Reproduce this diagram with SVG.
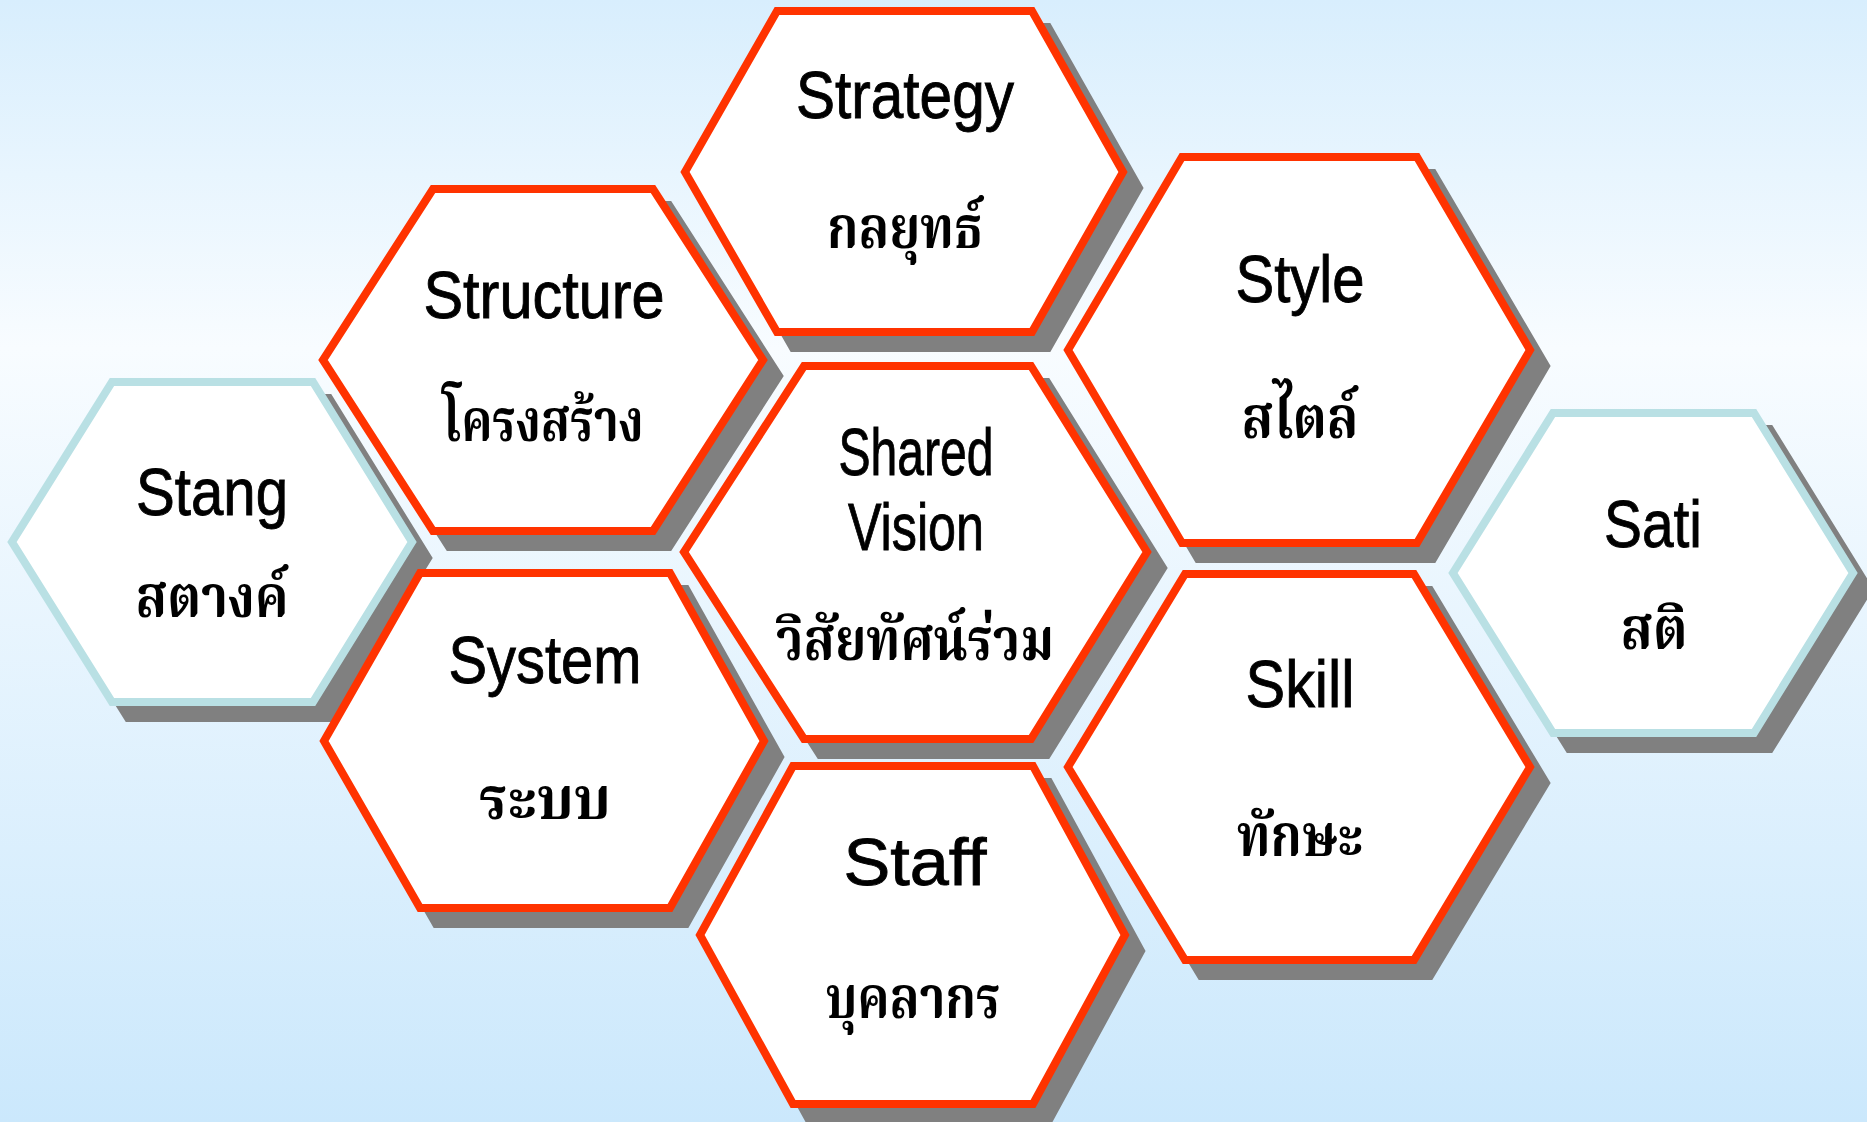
<svg xmlns="http://www.w3.org/2000/svg" width="1867" height="1122" viewBox="0 0 1867 1122">
<defs>
<linearGradient id="bg" x1="0" y1="0" x2="0" y2="1">
<stop offset="0" stop-color="#d8eefd"/>
<stop offset="0.31" stop-color="#f8fcff"/>
<stop offset="1" stop-color="#cbe8fc"/>
</linearGradient>
<style>
.sh{fill:#808080;stroke:#808080;stroke-width:8;stroke-linejoin:miter}
.hx{fill:#ffffff;stroke:#ff3300;stroke-width:8;stroke-linejoin:miter}
.hb{fill:#ffffff;stroke:#b9e0e4;stroke-width:8;stroke-linejoin:miter}
.en{font-family:"Liberation Sans Narrow","Liberation Sans",Arial,sans-serif;font-size:66px;fill:#000;stroke:#000;stroke-width:0.9;text-anchor:middle}
.th{font-family:"Noto Serif Thai","Noto Sans Thai","Loma","Garuda","Liberation Sans",sans-serif;font-size:58px;font-weight:bold;fill:#000;text-anchor:middle}
</style>
</defs>
<rect x="0" y="0" width="1867" height="1122" fill="url(#bg)"/>
<g id="connectors"></g>

<g id="stang">
<polygon class="sh" transform="translate(16,16)" points="112,382 313,382 412,542 313,702 112,702 12,542"/>
<polygon class="hb" points="112,382 313,382 412,542 313,702 112,702 12,542"/>
<text class="en" x="212" y="515" textLength="152" lengthAdjust="spacingAndGlyphs">Stang</text>
<text class="th" x="212" y="617" textLength="153" lengthAdjust="spacingAndGlyphs">สตางค์</text>
</g>

<g id="sati">
<polygon class="sh" transform="translate(16,16)" points="1553,413 1754,413 1853,573 1754,733 1553,733 1453,573"/>
<polygon class="hb" points="1553,413 1754,413 1853,573 1754,733 1553,733 1453,573"/>
<text class="en" x="1653" y="547" textLength="98" lengthAdjust="spacingAndGlyphs">Sati</text>
<text class="th" x="1654" y="649" textLength="67" lengthAdjust="spacingAndGlyphs">สติ</text>
</g>

<g id="strategy">
<polygon class="sh" transform="translate(16,16)" points="777,11 1032,11 1123,172 1032,332 777,332 685,172"/>
<polygon class="hx" points="777,11 1032,11 1123,172 1032,332 777,332 685,172"/>
<text class="en" x="905" y="118" textLength="218" lengthAdjust="spacingAndGlyphs">Strategy</text>
<text class="th" x="905" y="248" textLength="156" lengthAdjust="spacingAndGlyphs">กลยุทธ์</text>
</g>

<g id="structure">
<polygon class="sh" transform="translate(16,16)" points="433,189 653,189 763,360 653,531 433,531 323,360"/>
<polygon class="hx" points="433,189 653,189 763,360 653,531 433,531 323,360"/>
<text class="en" x="544" y="318" textLength="241" lengthAdjust="spacingAndGlyphs">Structure</text>
<text class="th" x="543" y="441" textLength="201" lengthAdjust="spacingAndGlyphs">โครงสร้าง</text>
</g>

<g id="style">
<polygon class="sh" transform="translate(16,16)" points="1182,157 1417,157 1530,350 1417,543 1182,543 1068,350"/>
<polygon class="hx" points="1182,157 1417,157 1530,350 1417,543 1182,543 1068,350"/>
<text class="en" x="1300" y="302" textLength="129" lengthAdjust="spacingAndGlyphs">Style</text>
<text class="th" x="1300" y="438" textLength="117" lengthAdjust="spacingAndGlyphs">สไตล์</text>
</g>

<g id="shared-vision">
<polygon class="sh" transform="translate(16,16)" points="804,366 1031,366 1147,552 1031,739 804,739 684,552"/>
<polygon class="hx" points="804,366 1031,366 1147,552 1031,739 804,739 684,552"/>
<text class="en" x="916" y="475" font-size="56" textLength="155" lengthAdjust="spacingAndGlyphs">Shared</text>
<text class="en" x="916" y="550" font-size="56" textLength="136" lengthAdjust="spacingAndGlyphs">Vision</text>
<text class="th" x="915" y="660" textLength="278" lengthAdjust="spacingAndGlyphs">วิสัยทัศน์ร่วม</text>
</g>

<g id="system">
<polygon class="sh" transform="translate(16,16)" points="420,573 670,573 764,741 670,908 420,908 324,741"/>
<polygon class="hx" points="420,573 670,573 764,741 670,908 420,908 324,741"/>
<text class="en" x="545" y="683" textLength="193" lengthAdjust="spacingAndGlyphs">System</text>
<text class="th" x="545" y="819" textLength="132" lengthAdjust="spacingAndGlyphs">ระบบ</text>
</g>

<g id="skill">
<polygon class="sh" transform="translate(16,16)" points="1185,574 1414,574 1530,767 1414,960 1185,960 1068,767"/>
<polygon class="hx" points="1185,574 1414,574 1530,767 1414,960 1185,960 1068,767"/>
<text class="en" x="1300" y="707" textLength="109" lengthAdjust="spacingAndGlyphs">Skill</text>
<text class="th" x="1300" y="856" textLength="126" lengthAdjust="spacingAndGlyphs">ทักษะ</text>
</g>

<g id="staff">
<polygon class="sh" transform="translate(16,16)" points="793,766 1033,766 1125,935 1033,1104 793,1104 700,935"/>
<polygon class="hx" points="793,766 1033,766 1125,935 1033,1104 793,1104 700,935"/>
<text class="en" x="915" y="885" font-size="77" textLength="143" lengthAdjust="spacingAndGlyphs">Staff</text>
<text class="th" x="913" y="1018" textLength="175" lengthAdjust="spacingAndGlyphs">บุคลากร</text>
</g>
</svg>
